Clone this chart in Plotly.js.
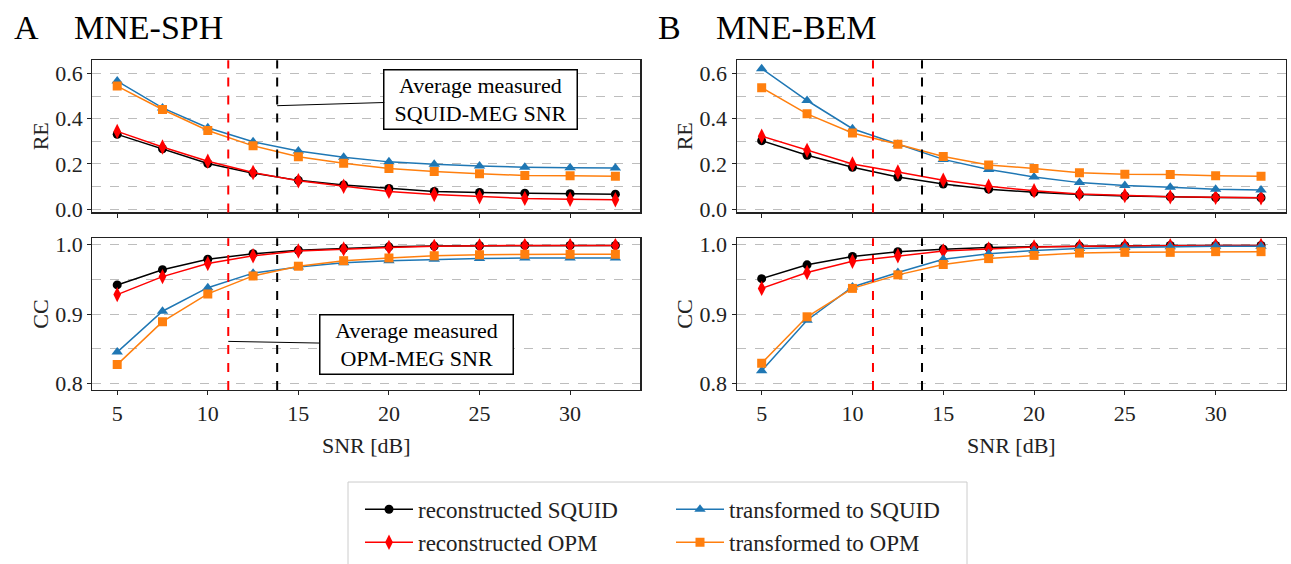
<!DOCTYPE html>
<html>
<head>
<meta charset="utf-8">
<script src="https://cdn.plot.ly/plotly-3.0.1.min.js"></script>
<style>html,body{margin:0;padding:0;background:#fff;}#chart{width:1291px;height:564px;}</style>
</head>
<body>
<div id="chart"></div>
<script>
// ---- data ----
const snr = [5, 7.5, 10, 12.5, 15, 17.5, 20, 22.5, 25, 27.5, 30, 32.5];
const seriesNames = ["reconstructed SQUID", "reconstructed OPM", "transformed to SQUID", "transformed to OPM"];
const panelTitles = ["MNE-SPH", "MNE-BEM"];
const panelLetters = ["A", "B"];
const snrMarkers = [11.13, 13.83]; // average measured OPM-MEG, SQUID-MEG SNR

// MNE-SPH, relative error
const sphReRecSquid = [0.331, 0.267, 0.202, 0.159, 0.127, 0.107, 0.091, 0.078, 0.073, 0.070, 0.068, 0.066];
const sphReRecOpm   = [0.344, 0.275, 0.212, 0.162, 0.125, 0.101, 0.078, 0.064, 0.054, 0.047, 0.043, 0.041];
const sphReTrSquid  = [0.567, 0.448, 0.360, 0.298, 0.257, 0.230, 0.209, 0.198, 0.191, 0.185, 0.183, 0.182];
const sphReTrOpm    = [0.545, 0.441, 0.348, 0.280, 0.232, 0.203, 0.180, 0.166, 0.156, 0.149, 0.147, 0.145];
// MNE-BEM, relative error
const bemReRecSquid = [0.303, 0.238, 0.185, 0.142, 0.111, 0.088, 0.074, 0.064, 0.058, 0.054, 0.051, 0.050];
const bemReRecOpm   = [0.323, 0.260, 0.200, 0.164, 0.128, 0.101, 0.081, 0.067, 0.060, 0.054, 0.052, 0.050];
const bemReTrSquid  = [0.622, 0.481, 0.356, 0.287, 0.220, 0.175, 0.142, 0.117, 0.104, 0.097, 0.088, 0.084];
const bemReTrOpm    = [0.538, 0.422, 0.337, 0.287, 0.233, 0.195, 0.180, 0.161, 0.154, 0.153, 0.148, 0.145];
// MNE-SPH, correlation coefficient
const sphCcRecSquid = [0.942, 0.964, 0.979, 0.987, 0.992, 0.995, 0.997, 0.998, 0.9985, 0.999, 0.999, 0.999];
const sphCcRecOpm   = [0.928, 0.954, 0.973, 0.984, 0.991, 0.994, 0.996, 0.9977, 0.9985, 0.999, 0.999, 0.999];
const sphCcTrSquid  = [0.845, 0.904, 0.938, 0.959, 0.968, 0.974, 0.977, 0.979, 0.980, 0.981, 0.981, 0.981];
const sphCcTrOpm    = [0.827, 0.889, 0.929, 0.955, 0.969, 0.977, 0.981, 0.984, 0.9855, 0.9864, 0.9864, 0.9864];
// MNE-BEM, correlation coefficient
const bemCcRecSquid = [0.951, 0.971, 0.983, 0.990, 0.9935, 0.996, 0.997, 0.998, 0.9985, 0.999, 0.999, 0.999];
const bemCcRecOpm   = [0.937, 0.960, 0.976, 0.984, 0.991, 0.994, 0.9967, 0.9977, 0.9985, 0.9986, 0.999, 0.999];
const bemCcTrSquid  = [0.818, 0.891, 0.939, 0.960, 0.979, 0.987, 0.9916, 0.9944, 0.996, 0.997, 0.9977, 0.9977];
const bemCcTrOpm    = [0.829, 0.896, 0.937, 0.9565, 0.9715, 0.980, 0.9846, 0.988, 0.989, 0.989, 0.990, 0.990];

// ---- styles ----
const colors = ["#000000", "#ff0000", "#1f77b4", "#ff7f0e"];
const symbols = ["circle", "diamond-tall", "triangle-up", "square"];
const sizes = [9, 11, 10, 9];
const FONT = "Liberation Serif";

const panels = [
  {xa: "x",  ya: "y",  data: [sphReRecSquid, sphReRecOpm, sphReTrSquid, sphReTrOpm]},
  {xa: "x2", ya: "y2", data: [sphCcRecSquid, sphCcRecOpm, sphCcTrSquid, sphCcTrOpm]},
  {xa: "x3", ya: "y3", data: [bemReRecSquid, bemReRecOpm, bemReTrSquid, bemReTrOpm]},
  {xa: "x4", ya: "y4", data: [bemCcRecSquid, bemCcRecOpm, bemCcTrSquid, bemCcTrOpm]}
];

const traces = [];
panels.forEach((p, pi) => {
  p.data.forEach((vals, si) => {
    traces.push({
      type: "scatter", mode: "lines+markers",
      x: snr, y: vals, xaxis: p.xa, yaxis: p.ya,
      name: seriesNames[si],
      showlegend: pi === 0,
      legend: si < 2 ? "legend" : "legend2",
      line: {color: colors[si], width: 1.5},
      marker: {color: colors[si], symbol: symbols[si], size: sizes[si], line: {width: 0}}
    });
  });
});

const W = 1291, H = 564;
const px = v => v / W;
const py = v => 1 - v / H;

const gridCol = "#bdbdbd";
function xAxis(dom, anchor, labels) {
  return {
    domain: dom, anchor: anchor, range: [3.625, 33.875],
    tickvals: [5, 10, 15, 20, 25, 30], showticklabels: labels,
    ticks: "outside", ticklen: 4, tickwidth: 1, tickcolor: "#222",
    showgrid: false, zeroline: false,
    showline: true, mirror: true, linecolor: "#222", linewidth: 1.2,
    tickfont: {family: FONT, size: 22, color: "#222"},
    title: labels ? {text: "SNR [dB]", font: {family: FONT, size: 22, color: "#222"}, standoff: 12} : {text: ""}
  };
}
function yAxis(dom, anchor, range, dtick, minorDtick, fmt, title) {
  return {
    domain: dom, anchor: anchor, range: range,
    dtick: dtick, tick0: 0, tickformat: fmt,
    ticks: "outside", ticklen: 4, tickwidth: 1, tickcolor: "#222",
    showgrid: true, gridcolor: gridCol, griddash: "dash", gridwidth: 1,
    minor: {dtick: minorDtick, tick0: 0, showgrid: true, gridcolor: gridCol, griddash: "dash", gridwidth: 1, ticks: ""},
    zeroline: false,
    showline: true, mirror: true, linecolor: "#222", linewidth: 1.2,
    tickfont: {family: FONT, size: 22, color: "#222"},
    title: {text: title, font: {family: FONT, size: 22, color: "#222"}, standoff: 0}
  };
}

const domA = [px(92.3), px(640.3)];
const domB = [px(736.7), px(1286)];
const domTop = [py(219), py(62)];
const domBot = [py(402), py(245.7)];
const reRange = [-0.015, 0.66];
const ccRange = [0.7905, 1.0093];

const shapes = [];
["x", "x2", "x3", "x4"].forEach((xa, i) => {
  const ya = "y" + (i === 0 ? "" : (i + 1));
  shapes.push({type: "line", xref: xa, yref: ya + " domain", x0: snrMarkers[0], x1: snrMarkers[0], y0: 0, y1: 1,
    line: {color: "#ff0000", width: 2, dash: "dash"}});
  shapes.push({type: "line", xref: xa, yref: ya + " domain", x0: snrMarkers[1], x1: snrMarkers[1], y0: 0, y1: 1,
    line: {color: "#000000", width: 2, dash: "dash"}});
});
// legend frame
shapes.push({type: "rect", xref: "paper", yref: "paper", x0: px(348), x1: px(967), y0: py(497), y1: py(600),
  line: {color: "#cccccc", width: 1}, fillcolor: "rgba(0,0,0,0)"});

const annotations = [
  {xref: "paper", yref: "paper", x: px(12), y: py(28), xanchor: "left", yanchor: "middle", showarrow: false,
   text: panelLetters[0], font: {family: FONT, size: 34, color: "#000"}},
  {xref: "paper", yref: "paper", x: px(72), y: py(28), xanchor: "left", yanchor: "middle", showarrow: false,
   text: panelTitles[0], font: {family: FONT, size: 34, color: "#000"}},
  {xref: "paper", yref: "paper", x: px(656), y: py(28), xanchor: "left", yanchor: "middle", showarrow: false,
   text: panelLetters[1], font: {family: FONT, size: 34, color: "#000"}},
  {xref: "paper", yref: "paper", x: px(714), y: py(28), xanchor: "left", yanchor: "middle", showarrow: false,
   text: panelTitles[1], font: {family: FONT, size: 34, color: "#000"}},
  {xref: "x", yref: "y", x: snrMarkers[1], y: 0.458, axref: "x", ayref: "y", ax: 25.08, ay: 0.485,
   showarrow: true, arrowhead: 0, arrowwidth: 1, arrowcolor: "#000", standoff: 0, startstandoff: 0,
   text: "Average measured<br>SQUID-MEG SNR", align: "center",
   font: {family: FONT, size: 22, color: "#000"}, bgcolor: "#fff", bordercolor: "#000", borderwidth: 1.5,
   borderpad: 2, width: 188},
  {xref: "x2", yref: "y2", x: snrMarkers[0], y: 0.8605, axref: "x2", ayref: "y2", ax: 21.53, ay: 0.8555,
   showarrow: true, arrowhead: 0, arrowwidth: 1, arrowcolor: "#000", standoff: 0, startstandoff: 0,
   text: "Average measured<br>OPM-MEG SNR", align: "center",
   font: {family: FONT, size: 22, color: "#000"}, bgcolor: "#fff", bordercolor: "#000", borderwidth: 1.5,
   borderpad: 2, width: 188}
];

const legendFont = {family: FONT, size: 23, color: "#222"};
const layout = {
  width: W, height: H,
  margin: {l: 0, r: 0, t: 0, b: 0},
  paper_bgcolor: "#fff", plot_bgcolor: "#fff",
  font: {family: FONT, size: 20, color: "#222"},
  xaxis:  xAxis(domA, "y", false),
  xaxis2: xAxis(domA, "y2", true),
  xaxis3: xAxis(domB, "y3", false),
  xaxis4: xAxis(domB, "y4", true),
  yaxis:  yAxis(domTop, "x", reRange, 0.2, 0.1, ".1f", "RE"),
  yaxis2: yAxis(domBot, "x2", ccRange, 0.1, 0.05, ".1f", "CC"),
  yaxis3: yAxis(domTop, "x3", reRange, 0.2, 0.1, ".1f", "RE"),
  yaxis4: yAxis(domBot, "x4", ccRange, 0.1, 0.05, ".1f", "CC"),
  showlegend: true,
  legend: {x: px(360), y: py(503), xanchor: "left", yanchor: "top", orientation: "v",
    bgcolor: "rgba(0,0,0,0)", borderwidth: 0, itemwidth: 48, tracegroupgap: 0, font: legendFont},
  legend2: {x: px(671), y: py(503), xanchor: "left", yanchor: "top", orientation: "v",
    bgcolor: "rgba(0,0,0,0)", borderwidth: 0, itemwidth: 48, tracegroupgap: 0, font: legendFont},
  shapes: shapes,
  annotations: annotations
};

Plotly.newPlot("chart", traces, layout, {displayModeBar: false, staticPlot: true});
</script>
</body>
</html>
